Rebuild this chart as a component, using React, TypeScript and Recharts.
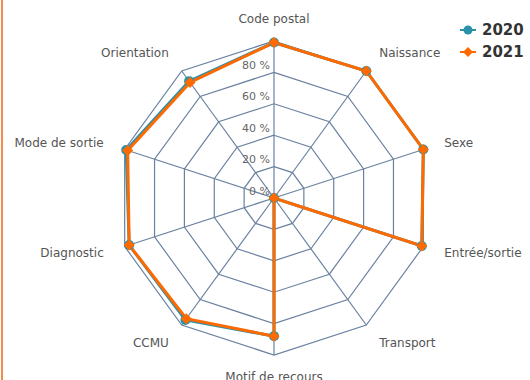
import React from 'react';
import { RadarChart, Radar, PolarGrid, PolarAngleAxis, PolarRadiusAxis, Legend } from 'recharts';

const categories = ['Code postal', 'Naissance', 'Sexe', 'Entrée/sortie', 'Transport', 'Motif de recours', 'CCMU', 'Diagnostic', 'Mode de sortie', 'Orientation'];
const values2020 = [99, 100, 100, 99, 0, 88, 96, 97, 99, 92];
const values2021 = [99, 100, 100, 99, 0, 88, 95, 97, 98, 91];
const radialTicks = [0, 20, 40, 60, 80, 100];

const data = categories.map((c, i) => ({ cat: c, y2020: values2020[i], y2021: values2021[i] }));

const C2020 = '#2b91a9';
const C2021 = '#ff6a00';
const GRID = '#6a82a0';

const AngleTick = (props: any) => {
  const { x, y, textAnchor, payload } = props;
  return (
    <text x={x} y={y} textAnchor={textAnchor} dominantBaseline="central" fontSize={12} fill="#555" fontFamily="DejaVu Sans">
      {payload.value}
    </text>
  );
};

const RadiusTick = (props: any) => {
  const { x, y, payload } = props;
  if (payload.value === 100) return null;
  return (
    <text x={x - 4} y={y - 7} textAnchor="end" dominantBaseline="central" fontSize={11} fill="#666" fontFamily="DejaVu Sans">
      {payload.value + ' %'}
    </text>
  );
};

const Diamond = (props: any) => {
  const { cx, cy } = props;
  if (cx == null || cy == null) return null;
  const r = 5.5;
  return <path d={`M${cx},${cy - r}L${cx + r},${cy}L${cx},${cy + r}L${cx - r},${cy}Z`} fill={C2021} />;
};

const Circle = (props: any) => {
  const { cx, cy } = props;
  if (cx == null || cy == null) return null;
  return <circle cx={cx} cy={cy} r={5} fill={C2020} />;
};

const LegendContent = () => (
  <div style={{ fontFamily: 'DejaVu Sans', fontWeight: 'bold', fontSize: 15, color: '#333' }}>
    {[{ n: '2020', c: C2020, s: 'c' }, { n: '2021', c: C2021, s: 'd' }].map((e) => (
      <div key={e.n} style={{ display: 'flex', alignItems: 'center', height: 22 }}>
        <svg width={18} height={12} style={{ marginRight: 4 }}>
          <line x1={0} y1={6} x2={16} y2={6} stroke={e.c} strokeWidth={2} />
          {e.s === 'c' ? <circle cx={8} cy={6} r={4.5} fill={e.c} /> : <path d="M8,1L13,6L8,11L3,6Z" fill={e.c} />}
        </svg>
        <span>{e.n}</span>
      </div>
    ))}
  </div>
);

export default function App() {
  return (
    <div style={{ position: 'absolute', left: 0, top: 0, width: 530, height: 380, background: '#fff', overflow: 'hidden' }}>
      <div style={{ position: 'absolute', left: 1, top: 0, width: 2, height: 380, background: '#f58a4a' }} />
      <RadarChart width={530} height={380} data={data} cx={274} cy={198} outerRadius={157} margin={{ top: 0, right: 0, bottom: 0, left: 0 }}>
        <PolarGrid gridType="polygon" stroke={GRID} strokeWidth={1.2} />
        <PolarAngleAxis dataKey="cat" tick={<AngleTick />} tickLine={false} tickSize={22} axisLine={false} />
        <PolarRadiusAxis angle={90} domain={[0, 100]} ticks={radialTicks as any} tickCount={6} tick={<RadiusTick />} axisLine={false} tickLine={false} />
        <Radar dataKey="y2020" stroke={C2020} strokeWidth={3} fill="none" fillOpacity={0} dot={<Circle />} isAnimationActive={false} />
        <Radar dataKey="y2021" stroke={C2021} strokeWidth={3} fill="none" fillOpacity={0} dot={<Diamond />} isAnimationActive={false} />
        <Legend layout="vertical" align="right" verticalAlign="top" content={<LegendContent />} wrapperStyle={{ position: 'absolute', left: 460, top: 19, width: 70 }} />
      </RadarChart>
    </div>
  );
}
